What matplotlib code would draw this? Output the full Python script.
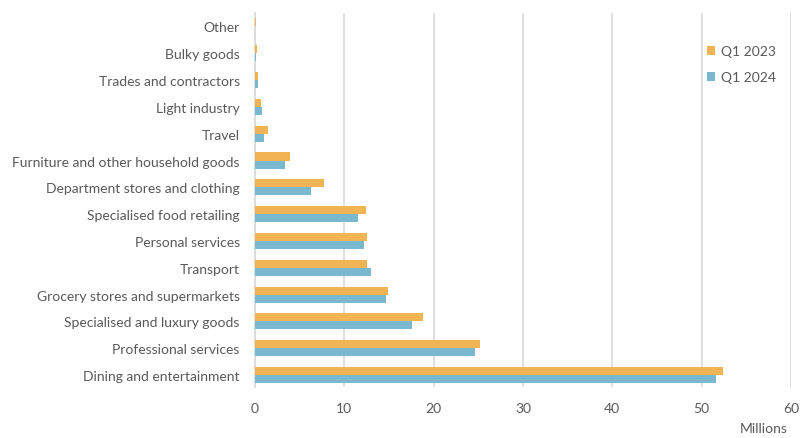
import numpy as np
import matplotlib.pyplot as plt

plt.rcParams['font.family'] = ['Lato', 'DejaVu Sans']

categorias = ['Dining and entertainment', 'Professional services', 'Specialised and luxury goods',
              'Grocery stores and supermarkets', 'Transport', 'Personal services',
              'Specialised food retailing', 'Department stores and clothing',
              'Furniture and other household goods', 'Travel', 'Light industry',
              'Trades and contractors', 'Bulky goods', 'Other']
q1_2023 = [52.4, 25.2, 18.8, 14.9, 12.5, 12.5, 12.4, 7.7, 3.9, 1.5, 0.65, 0.3, 0.2, 0.1]
q1_2024 = [51.6, 24.6, 17.6, 14.7, 13.0, 12.2, 11.5, 6.3, 3.4, 1.0, 0.75, 0.3, 0.1, 0.02]

naranja = '#F0B455'
azul = '#7AB8D0'
gris = '#595959'

fig = plt.figure(figsize=(8.12, 4.39), dpi=100)
ax = fig.add_axes([0.314, 0.116, 0.66, 0.852])

y = np.arange(len(categorias))
h = 0.3
ax.barh(y + h/2, q1_2023, height=h, color=naranja, label='Q1 2023', zorder=3)
ax.barh(y - h/2, q1_2024, height=h, color=azul, label='Q1 2024', zorder=3)

ax.set_xlim(0, 60)
ax.set_ylim(-0.45, 13.5)
ax.set_xticks(range(0, 61, 10))
ax.set_yticks(y)
ax.set_yticklabels(categorias)
ax.tick_params(axis='both', length=0, labelsize=10, labelcolor=gris)
ax.tick_params(axis='x', pad=11)
ax.tick_params(axis='y', pad=11)
ax.grid(axis='x', color='#d9d9d9', linewidth=1.2, zorder=0)
for s in ['top', 'right', 'bottom']:
    ax.spines[s].set_visible(False)
ax.spines['left'].set_color('#d9d9d9')
ax.spines['left'].set_linewidth(1.2)

fig.text(0.97, 0.008, 'Millions', ha='right', va='bottom', fontsize=10, color=gris)

leg = ax.legend(loc='upper right', bbox_to_anchor=(0.995, 0.947), frameon=False,
                fontsize=10, labelcolor=gris, handlelength=0.6, handleheight=0.6,
                handletextpad=0.4, labelspacing=1.0)

fig.savefig('out.png', dpi=100)
